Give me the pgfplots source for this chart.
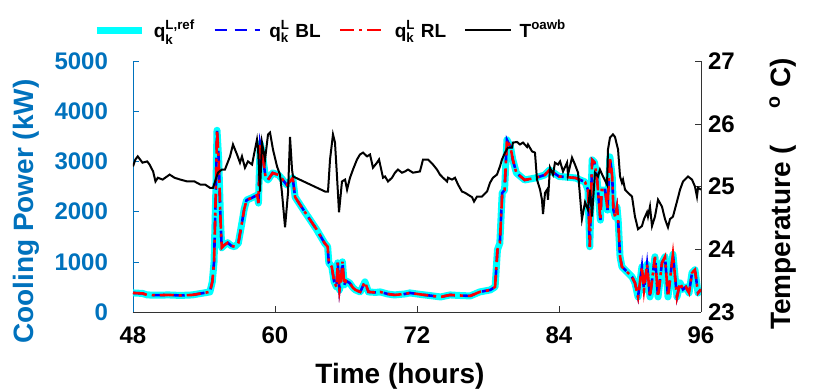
\documentclass[border=0pt]{standalone}
\usepackage{fontspec}
\setmainfont{Liberation Sans}
\usepackage{amsmath}
\usepackage{pgfplots}
\usepackage{pgfplotstable}
\pgfplotsset{compat=1.18}
\definecolor{mblue}{rgb}{0,0.447,0.741}
\definecolor{mcyan}{rgb}{0,1,1}

% cooling power (kW), reference / BL / RL overlap
\pgfplotstableread{
h p
48.0 380
48.8 370
49.2 340
50.0 335
51.0 340
52.0 330
53.0 340
53.5 360
54.0 380
54.5 400
54.7 600
54.85 1000
55.0 2400
55.1 3620
55.25 3000
55.4 1800
55.5 1280
55.7 1330
56.0 1380
56.3 1320
56.6 1300
56.9 1370
57.2 1770
57.4 2050
57.6 2230
58.0 2270
58.5 2330
58.6 2170
58.75 3360
58.9 3200
59.2 2690
59.4 2630
59.8 2770
60.3 2730
60.6 2650
61.0 2530
61.5 2670
61.7 2290
62.5 2000
63.5 1650
64.2 1370
64.45 1300
64.55 980
64.8 900
65.0 600
65.2 500
65.3 980
65.45 440
65.6 700
65.7 1000
65.85 540
66.0 620
66.3 580
66.6 480
66.8 440
67.2 400
67.6 600
67.9 400
68.5 390
68.9 400
69.5 360
70.1 340
71.0 360
71.4 380
72.3 350
73.0 330
74.0 300
74.8 340
75.5 330
76.5 320
77.3 400
78.2 440
78.6 500
78.8 1240
79.0 1370
79.2 2370
79.4 2430
79.6 3430
79.9 3290
80.1 3030
80.4 2770
81.1 2630
82.0 2670
82.8 2730
83.2 2830
84.0 2700
84.5 2690
85.4 2670
86.2 2590
86.45 2430
86.6 1300
86.8 3030
87.0 2980
87.2 2690
87.5 1830
87.6 2430
87.9 2430
88.1 2030
88.3 3090
88.5 2690
88.6 2030
88.75 1890
88.9 2090
89.0 1830
89.16 1100
89.32 900
89.58 840
89.83 780
90.17 700
90.42 580
90.68 300
91.01 900
91.18 440
91.44 950
91.69 300
92.11 1100
92.37 300
92.70 980
92.96 1100
93.21 300
93.63 1150
93.97 300
94.23 580
94.48 450
94.73 500
94.99 380
95.24 780
95.49 840
95.75 380
96.0 450
}\power

% outside air wet-bulb temperature (C)
\pgfplotstableread{
h t
48.0 25.32
48.2 25.43
48.4 25.48
48.8 25.38
49.2 25.40
49.4 25.35
49.7 25.24
49.9 25.08
50.1 25.14
50.5 25.11
51.1 25.19
51.5 25.14
52.0 25.11
52.6 25.08
53.2 25.08
53.7 25.03
54.1 25.03
54.5 24.98
54.76 24.98
55.18 25.22
55.5 25.27
55.77 25.27
56.20 25.48
56.45 25.67
56.79 25.51
57.04 25.38
57.21 25.48
57.46 25.30
57.72 25.40
58.06 25.35
58.31 25.59
58.48 25.75
58.56 25.63
58.73 24.92
58.90 25.70
59.16 25.43
59.41 25.83
59.58 25.86
59.83 25.59
60.17 25.32
60.42 25.19
60.59 24.90
60.85 24.35
61.10 24.90
61.27 25.79
61.44 25.27
61.52 25.16
64.23 24.92
64.48 24.92
64.65 25.43
64.90 25.83
65.07 25.70
65.24 25.16
65.41 24.59
65.66 25.08
65.92 25.11
66.09 24.95
66.34 25.14
66.59 25.27
66.93 25.43
67.18 25.51
67.44 25.54
67.78 25.48
68.03 25.51
68.28 25.30
68.62 25.38
68.79 25.43
69.13 25.14
69.30 25.16
69.55 25.08
69.89 25.14
70.14 25.22
70.39 25.27
70.73 25.22
70.99 25.24
71.24 25.27
71.66 25.22
72.25 25.24
72.51 25.43
72.93 25.43
73.35 25.35
73.69 25.27
73.94 25.19
74.20 25.14
74.54 25.08
74.62 25.14
74.96 25.11
75.21 25.14
75.47 25.03
75.80 24.92
76.06 24.90
76.31 24.87
76.65 24.83
76.82 24.76
77.07 24.84
77.49 24.84
77.92 24.92
78.17 25.06
78.42 25.14
78.76 25.19
79.01 25.32
79.18 25.43
79.44 25.54
79.69 25.62
80.03 25.62
80.11 25.70
80.45 25.71
80.70 25.67
80.96 25.70
81.30 25.63
81.38 25.67
81.72 25.56
81.97 25.54
82.14 25.11
82.40 24.95
82.56 24.79
82.65 24.56
82.82 24.90
82.99 24.95
83.07 24.79
83.24 25.30
83.49 25.19
83.66 25.38
83.92 25.35
84.09 25.40
84.34 25.24
84.68 25.38
84.76 25.19
85.10 25.46
85.35 25.35
85.61 25.22
85.94 24.48
86.20 24.75
86.45 24.63
86.62 24.95
86.79 24.52
87.04 25.22
87.30 25.16
87.46 25.27
87.72 25.16
88.06 25.03
88.14 25.59
88.31 25.78
88.56 25.83
88.73 25.79
88.99 25.59
89.16 25.16
89.32 25.06
89.41 25.11
89.58 24.95
89.83 24.90
90.17 24.84
90.42 24.52
90.68 24.32
91.01 24.37
91.18 24.48
91.44 24.59
91.52 24.52
91.69 24.68
91.86 24.37
92.11 24.52
92.37 24.79
92.70 24.68
92.96 24.48
93.21 24.35
93.38 24.48
93.63 24.52
93.97 24.76
94.23 24.95
94.48 25.08
94.90 25.16
95.24 25.11
95.49 25.00
95.66 24.84
95.75 24.98
96.0 24.95
}\temp

\begin{document}
\begin{tikzpicture}
\useasboundingbox (-66.5pt,-39.5pt) rectangle (348.5pt,156pt);
\pgfplotsset{
  every axis/.append style={
    scale only axis, width=284pt, height=125.5pt,
    xmin=48, xmax=96,
    tick align=inside, major tick length=3pt,
    /pgf/number format/assume math mode=true,
    /pgf/number format/1000 sep={},
    tick label style={font=\fontsize{12}{14}\selectfont\bfseries},
    label style={font=\fontsize{14}{16}\selectfont\bfseries},
  }
}
\begin{axis}[
  ymin=0, ymax=5000,
  scaled y ticks=false,
  xtick={48,60,72,84,96},
  ytick={0,1000,...,5000},
  axis x line*=bottom, axis y line*=left,
  x axis line style={-, draw=black!80},
  y axis line style={-, draw=mblue},
  xtick style={draw=black!80},
  ytick style={draw=mblue},
  yticklabel style={text=mblue, xshift=-9pt},
  xticklabel style={yshift=-4pt},
  xlabel={Time (hours)},
  xlabel style={at={(axis description cs:0.47,-0.255)}, anchor=center},
  ylabel={Cooling Power (kW)},
  ylabel style={text=mblue, at={(axis description cs:-0.187,0.40)}, anchor=center},
]
\addplot[mcyan, line width=3.5pt, line join=round] table[x=h,y=p]{\power};
\addplot[blue, line width=1.3pt, dash pattern=on 6pt off 4pt] table[x=h,y=p]{\power};
\addplot[red, line width=1.3pt, dash pattern=on 7pt off 2.5pt on 1.5pt off 2.5pt] table[x=h,y=p]{\power};
\end{axis}
\begin{axis}[
  ymin=23, ymax=27,
  ytick={23,...,27},
  axis x line=none, axis y line*=right,
  y axis line style={-, draw=black!80},
  ytick style={draw=black!80},
  ylabel={Temperature (\hspace{1.3em}\textsuperscript{o} C)},
  ylabel style={at={(axis description cs:1.144,0.47)}, anchor=center},
  legend columns=4,
  legend style={draw=none, fill=none, at={(axis description cs:0.35,1)}, anchor=south, yshift=6pt,
    font=\fontsize{9.5}{11}\selectfont\bfseries,
    /tikz/every odd column/.append style={column sep=2pt},
    /tikz/every even column/.append style={column sep=7pt}},
  legend image code/.code={\draw[#1] (0cm,0cm) -- (0.8cm,0cm);},
]
\addlegendimage{mcyan, line width=3.5pt}
\addlegendentry{q$_{\text{k}}^{\text{L,ref}}$}
\addlegendimage{blue, line width=1.3pt, dash pattern=on 6pt off 4pt}
\addlegendentry{q$_{\text{k}}^{\text{L}}$ BL}
\addlegendimage{red, line width=1.3pt, dash pattern=on 7pt off 2.5pt on 1.5pt off 2.5pt}
\addlegendentry{q$_{\text{k}}^{\text{L}}$ RL}
\addplot[black, line width=1pt] table[x=h,y=t]{\temp};
\addlegendentry{T$^{\text{oawb}}$}
\end{axis}
\end{tikzpicture}
\end{document}
